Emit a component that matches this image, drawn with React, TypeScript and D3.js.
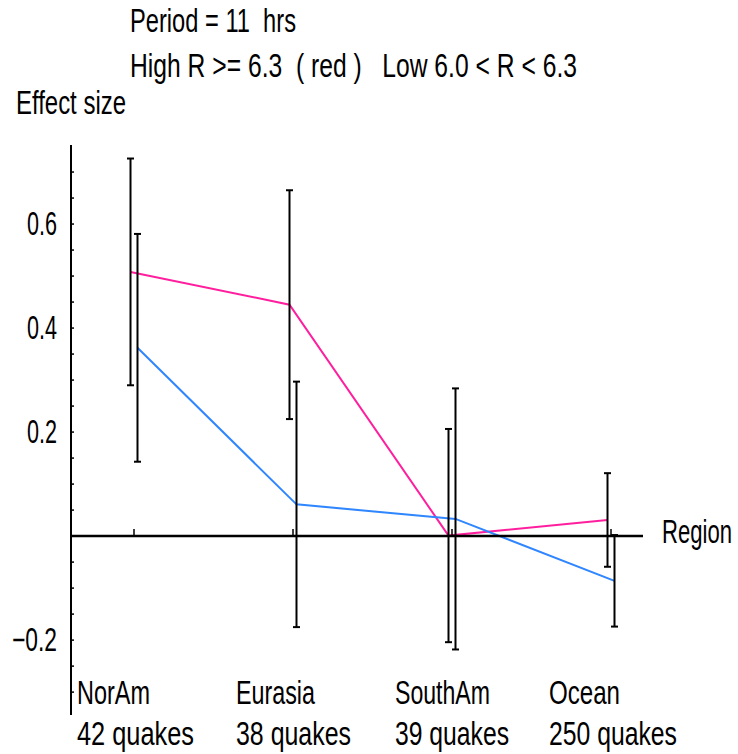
import React from "react";
import * as d3 from "d3";

const categories = ["NorAm", "Eurasia", "SouthAm", "Ocean"];
const quakeCounts = ["42 quakes", "38 quakes", "39 quakes", "250 quakes"];
const highValues = [0.508, 0.445, 0.001, 0.031];
const highErrors = [0.218, 0.22, 0.205, 0.09];
const lowValues = [0.362, 0.061, 0.033, -0.086];
const lowErrors = [0.219, 0.236, 0.251, 0.088];
const yTickValues = [0.6, 0.4, 0.2, -0.2];
const yTickLabels = ["0.6", "0.4", "0.2", "\u22120.2"];
const titleLine1 = "Period = 11  hrs";
const titleLine2 = "High R >= 6.3  ( red )   Low 6.0 < R < 6.3";
const yTitle = "Effect size";
const xTitle = "Region";

const W = 738;
const H = 754;
const FONT = "'Liberation Sans Narrow', 'Liberation Sans', Arial, sans-serif";
const FS = 33;
const PINK = "#ff1f9e";
const BLUE = "#2f86ff";

export default function App() {
  const x = d3.scaleLinear().domain([0, 3]).range([134, 611]);
  const y = d3.scaleLinear().domain([-0.344, 0.752]).range([715, 145]);
  const off = 0.022;
  const axisX = 71;
  const zeroY = y(0);

  const line = d3
    .line<[number, number]>()
    .x((d) => d[0])
    .y((d) => d[1]);

  const highPts: [number, number][] = highValues.map((v, i) => [x(i - off), y(v)]);
  const lowPts: [number, number][] = lowValues.map((v, i) => [x(i + off), y(v)]);

  const minorTicks = d3.range(-0.3, 0.7001, 0.05).filter((v) => Math.abs(v) > 1e-6);

  const errBar = (cx: number, v: number, e: number, key: string) => {
    const t = y(v + e);
    const b = y(v - e);
    return (
      <g key={key} stroke="#000" strokeWidth={2}>
        <line x1={cx} x2={cx} y1={t} y2={b} />
        <line x1={cx - 3.5} x2={cx + 3.5} y1={t} y2={t} />
        <line x1={cx - 3.5} x2={cx + 3.5} y1={b} y2={b} />
      </g>
    );
  };

  const txt = (s: string, tx: number, ty: number, len: number, anchor = "start", key?: string) => (
    <text
      key={key}
      x={tx}
      y={ty}
      textAnchor={anchor}
      textLength={len}
      lengthAdjust="spacingAndGlyphs"
      fontFamily={FONT}
      fontSize={FS}
      fill="#000"
      style={{ whiteSpace: "pre" }}
    >
      {s}
    </text>
  );

  const labelWidths = [73, 79, 95, 71];
  const countWidths = [117, 115, 114, 128];
  const labelOffsets = [-57, -57, -57, -62];

  return (
    <svg
      width={W}
      height={H}
      style={{ position: "absolute", left: 0, top: 0, background: "#fff" }}
    >
      {txt(titleLine1, 130, 32, 166)}
      {txt(titleLine2, 130, 77, 447)}
      {txt(yTitle, 16, 114, 110)}

      {/* y axis */}
      <line x1={axisX} x2={axisX} y1={y(0.752)} y2={y(-0.344)} stroke="#000" strokeWidth={2} />
      {minorTicks.map((v, i) => (
        <line key={"mt" + i} x1={axisX} x2={axisX + 3} y1={y(v)} y2={y(v)} stroke="#000" strokeWidth={1.5} />
      ))}
      {yTickValues.map((v, i) =>
        txt(yTickLabels[i], 57, y(v) + 11, yTickLabels[i].length > 3 ? 45 : 30, "end", "yl" + i)
      )}

      {/* lines */}
      <path d={line(highPts) || ""} fill="none" stroke={PINK} strokeWidth={2} />
      <path d={line(lowPts) || ""} fill="none" stroke={BLUE} strokeWidth={2} />

      {/* x axis */}
      <line x1={axisX} x2={643} y1={zeroY} y2={zeroY} stroke="#000" strokeWidth={2.5} />
      {categories.map((c, i) => (
        <line key={"xt" + i} x1={x(i)} x2={x(i)} y1={zeroY} y2={zeroY - 7} stroke="#000" strokeWidth={1.5} />
      ))}
      <text
        transform={`translate(662,543) scale(1,1.375)`}
        x={0}
        y={0}
        textLength={70}
        lengthAdjust="spacingAndGlyphs"
        fontFamily={FONT}
        fontSize={24}
        fill="#000"
      >
        {xTitle}
      </text>

      {/* error bars */}
      {highValues.map((v, i) => errBar(x(i - off), v, highErrors[i], "he" + i))}
      {lowValues.map((v, i) => errBar(x(i + off), v, lowErrors[i], "le" + i))}

      {/* category labels */}
      {categories.map((c, i) => txt(c, x(i) + labelOffsets[i], 704, labelWidths[i], "start", "cl" + i))}
      {quakeCounts.map((c, i) => txt(c, x(i) + labelOffsets[i], 745, countWidths[i], "start", "qc" + i))}
    </svg>
  );
}
